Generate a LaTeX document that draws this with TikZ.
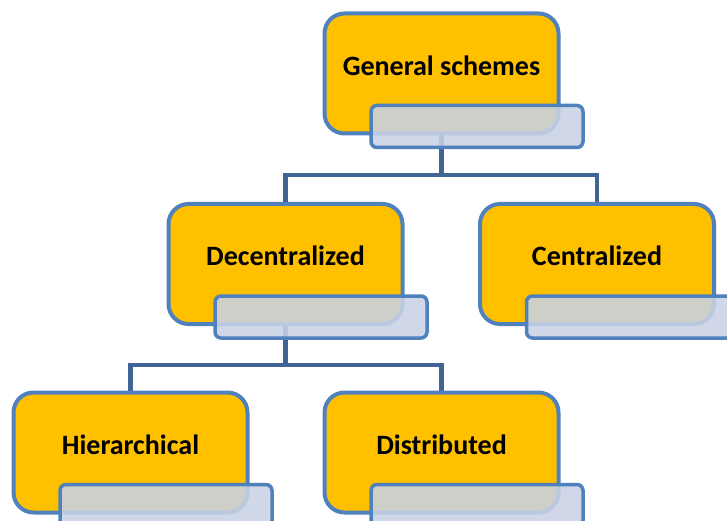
\documentclass[tikz,border=0pt]{standalone}
\usepackage{fontspec}
\setmainfont{Carlito}
\usetikzlibrary{backgrounds}
\definecolor{bordc}{RGB}{79,129,189}
\definecolor{connc}{RGB}{64,100,150}
\definecolor{orng}{RGB}{255,192,0}
\definecolor{subc}{RGB}{201,210,229}
\begin{document}
\begin{tikzpicture}[x=1pt,y=-1pt,
  mainbox/.style={draw=bordc, line width=4pt, fill=orng, rounded corners=20pt, minimum width=234pt, minimum height=120pt, inner sep=0pt},
  subbox/.style={draw=bordc, line width=3.5pt, fill=subc, fill opacity=0.88, rounded corners=6pt, minimum width=212pt, minimum height=42pt, inner sep=0pt},
  lbl/.style={font=\fontsize{28}{30}\selectfont\bfseries, inner sep=0pt},
  conn/.style={draw=connc, line width=4.2pt}]
\useasboundingbox (0,0) rectangle (727,521);
% main boxes
\node[mainbox] (gen) at (441.5,73.5) {};
\node[mainbox] (dec) at (285.5,264) {};
\node[mainbox] (cen) at (597,264) {};
\node[mainbox] (hie) at (130.5,452.5) {};
\node[mainbox] (dis) at (441.5,452.5) {};
% labels
\node[lbl] (genT) at (441.5,65.5) {General schemes};
\node[lbl] (decT) at (285.5,255.5) {Decentralized};
\node[lbl] (cenT) at (597,255.5) {Centralized};
\node[lbl] (hieT) at (130.5,444.5) {Hierarchical};
\node[lbl] (disT) at (441.5,444.5) {Distributed};
% sub boxes
\node[subbox] (genS) at (477,126.5) {};
\node[subbox] (decS) at (321,317) {};
\node[subbox] (cenS) at (632.5,317) {};
\node[subbox] (hieS) at (166,505.5) {};
\node[subbox] (disS) at (477,505.5) {};
% connectors
\coordinate (j1) at (441.5,175);
\coordinate (j2) at (285.5,365);
\begin{scope}[on background layer]
\draw[conn] (gen) -- (j1) -| (dec);
\draw[conn] (j1) -| (cen);
\draw[conn] (dec) -- (j2) -| (hie);
\draw[conn] (j2) -| (dis);
\end{scope}
\end{tikzpicture}
\end{document}
